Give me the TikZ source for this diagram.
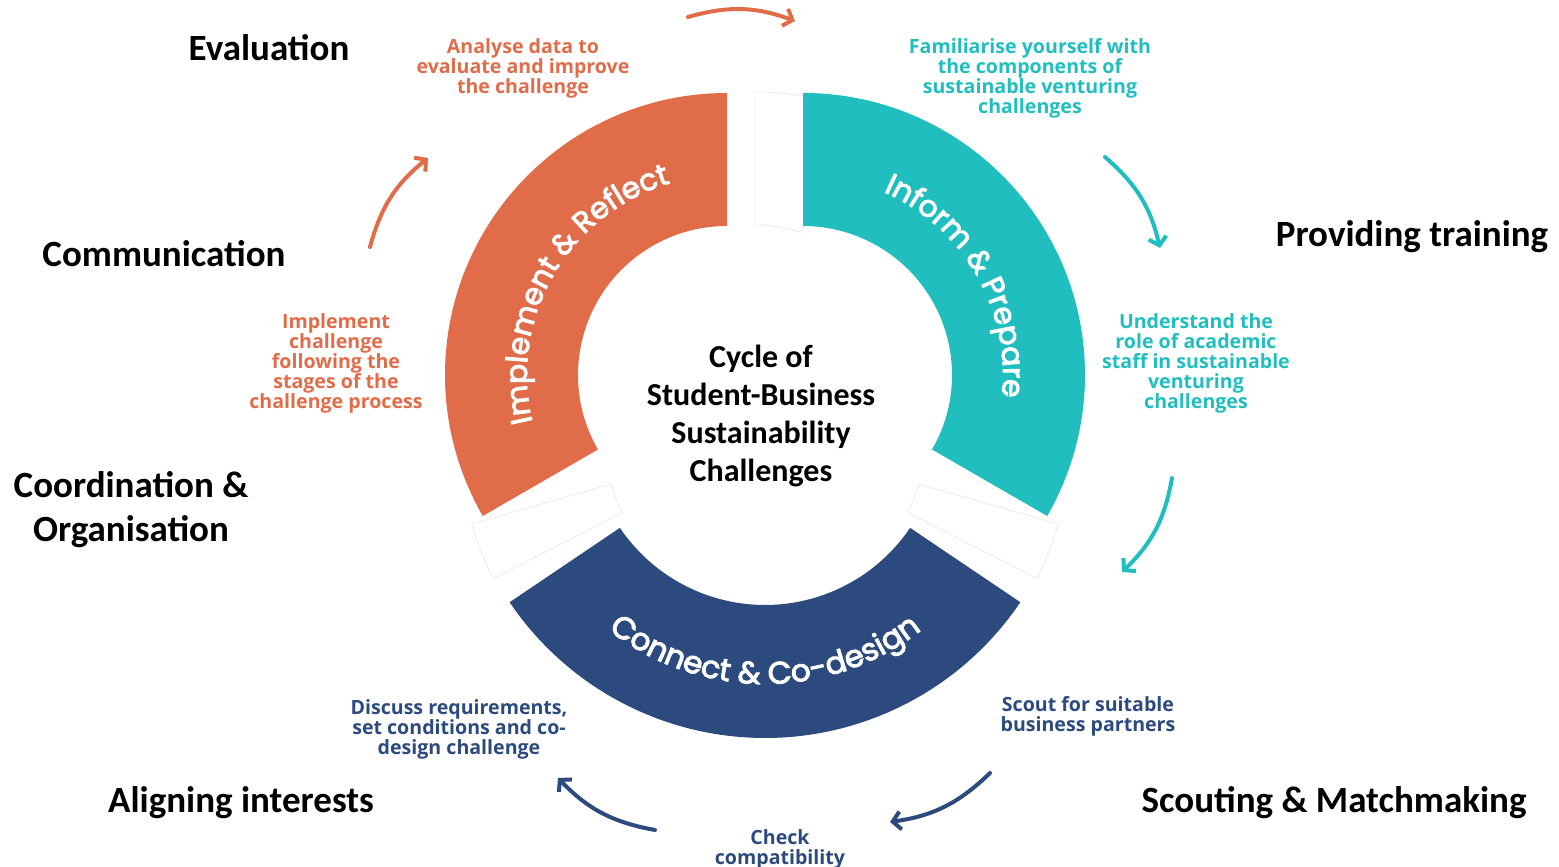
\documentclass[tikz,border=0pt]{standalone}
\usepackage{fontspec}
\setmainfont{Carlito}
\newfontfamily\labfont{Open Sans}
\newfontfamily\segfont{Poppins}[FakeBold=3]
\usetikzlibrary{arrows.meta,decorations.text,calc}

\definecolor{orangec}{HTML}{E06C4A}
\definecolor{tealc}{HTML}{20BEBF}
\definecolor{bluec}{HTML}{2C4A7E}

\begin{document}
\begin{tikzpicture}[x=0.5pt, y=0.5pt,
	stage/.style={font=\bfseries\fontsize{18.5}{22}\selectfont, align=center, inner sep=0pt},
	task/.style={align=center, font=\labfont\bfseries\fontsize{9.8}{10}\selectfont, inner sep=0pt},
	cyc/.style={line width=2pt, line cap=round, -{Straight Barb[length=4pt, width=9pt]}},
	ghost/.style={fill=white, draw=black!8, line width=0.4pt}]

	\useasboundingbox (0,0) rectangle (1559,867);

	% centres of the parts
	\coordinate (oc) at (727,492);
	\coordinate (tc) at (803,492);
	\coordinate (bc) at (765,437);
	\coordinate (gt) at (755,492);
	\coordinate (gb) at (765,427);

	% faint slices behind
	\draw[ghost] ($(gt)+(90:283)$) arc[start angle=90, end angle=72, radius=283] -- ($(gt)+(72:150)$) arc[start angle=72, end angle=90, radius=150] -- cycle;
	\draw[ghost] ($(gb)+(196:305)$) arc[start angle=196, end angle=207, radius=305] -- ($(gb)+(207:160)$) arc[start angle=207, end angle=196, radius=160] -- cycle;
	\draw[ghost] ($(gb)+(333:305)$) arc[start angle=333, end angle=344, radius=305] -- ($(gb)+(344:160)$) arc[start angle=344, end angle=333, radius=160] -- cycle;

	% the three parts
	\fill[orangec] ($(oc)+(90:282)$) arc[start angle=90, end angle=210, radius=282] -- ($(oc)+(210:149)$) arc[start angle=210, end angle=90, radius=149] -- cycle;
	\fill[tealc] ($(tc)+(90:282)$) arc[start angle=90, end angle=-30, radius=282] -- ($(tc)+(-30:149)$) arc[start angle=-30, end angle=90, radius=149] -- cycle;
	\fill[bluec] ($(bc)+(214:308)$) arc[start angle=214, end angle=326, radius=308] -- ($(bc)+(326:175)$) arc[start angle=326, end angle=214, radius=175] -- cycle;

	% curved titles
	\path[decorate, decoration={text along path, text align=center, text color=white,
		text={|\segfont\fontsize{15}{15}\selectfont|Implement {\&} Reflect}}]
		($(oc)+(200:200)$) arc[start angle=200, end angle=100, radius=200];
	\path[decorate, decoration={text along path, text align=center, text color=white,
		text={|\segfont\fontsize{15}{15}\selectfont|Inform {\&} Prepare}}]
		($(tc)+(80:200)$) arc[start angle=80, end angle=-20, radius=200];
	\path[decorate, decoration={text along path, text align=center, text color=white,
		text={|\segfont\fontsize{15.5}{15.5}\selectfont|Connect {\&} Co-design}}]
		($(bc)+(220:254)$) arc[start angle=220, end angle=320, radius=254];

	\node[font=\bfseries\fontsize{16}{19}\selectfont, align=center] (title) at (761,451) {Cycle of\\Student-Business\\Sustainability\\Challenges};

	% roles
	\node[stage] (eval) at (269,819) {Evaluation};
	\node[stage] (comm) at (164,613) {Communication};
	\node[stage] (coord) at (131,357) {Coordination \&\\Organisation};
	\node[stage] (align) at (241,64) {Aligning interests};
	\node[stage] (scout) at (1334,64) {Scouting \& Matchmaking};
	\node[stage] (train) at (1412,630) {Providing training};

	% steps
	\node[task, text=orangec] (analyse) at (523,799) {Analyse data to\\evaluate and improve\\the challenge};
	\node[task, text=orangec] (implement) at (336,504) {Implement\\challenge\\following the\\stages of the\\challenge process};
	\node[task, text=tealc] (familiar) at (1030,789) {Familiarise yourself with\\the components of\\sustainable venturing\\challenges};
	\node[task, text=tealc] (understand) at (1196,504) {Understand the\\role of academic\\staff in sustainable\\venturing\\challenges};
	\node[task, text=bluec] (scoutfor) at (1088,151) {Scout for suitable\\business partners};
	\node[task, text=bluec] (check) at (780,18) {Check\\compatibility};
	\node[task, text=bluec] (discuss) at (459,138) {Discuss requirements,\\set conditions and co-\\design challenge};

	% arrows round the cycle
	\coordinate (o1a) at (688,850);
	\coordinate (o1b) at (795,846);
	\coordinate (o2a) at (370,620);
	\coordinate (o2b) at (428,709);
	\coordinate (t1a) at (1105,710);
	\coordinate (t1b) at (1160,619);
	\coordinate (t2a) at (1172,389);
	\coordinate (t2b) at (1122,295);
	\coordinate (b1a) at (990,94);
	\coordinate (b1b) at (890,45);
	\coordinate (b2a) at (655,37);
	\coordinate (b2b) at (558,89);

	\draw[cyc, orangec] (o1a) to[bend left=18] (o1b);
	\draw[cyc, orangec] (o2a) to[bend left=18] (o2b);
	\draw[cyc, tealc] (t1a) to[bend left=18] (t1b);
	\draw[cyc, tealc] (t2a) to[bend left=18] (t2b);
	\draw[cyc, bluec] (b1a) to[bend left=18] (b1b);
	\draw[cyc, bluec] (b2a) to[bend left=18] (b2b);
\end{tikzpicture}
\end{document}
